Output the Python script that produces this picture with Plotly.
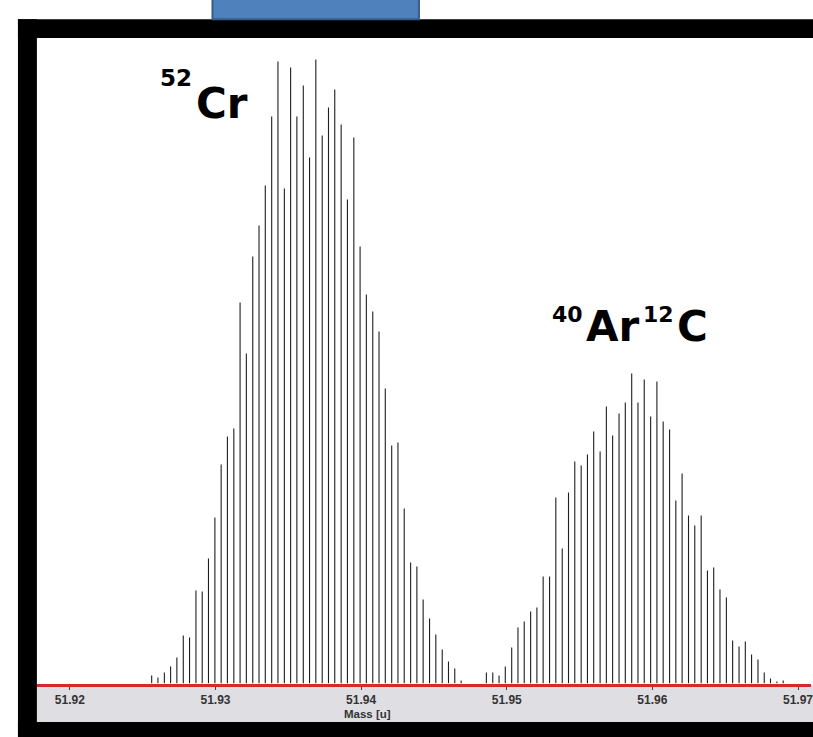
import plotly.graph_objects as go

# ---- data ----
cr_mass = [51.92562, 51.92605, 51.92649, 51.92692, 51.92735, 51.92779, 51.92822, 51.92866, 51.92909, 51.92952,
           51.92996, 51.93039, 51.93082, 51.93126, 51.93169, 51.93212, 51.93256, 51.93299, 51.93342, 51.93386,
           51.93429, 51.93473, 51.93516, 51.93559, 51.93603, 51.93646, 51.93689, 51.93733, 51.93776, 51.93819,
           51.93863, 51.93906, 51.93950, 51.93993, 51.94036, 51.94080, 51.94123, 51.94166, 51.94210, 51.94253,
           51.94296, 51.94340, 51.94383, 51.94426, 51.94470, 51.94513, 51.94557, 51.94600, 51.94643, 51.94687]
cr_int = [8, 6, 11, 17, 26, 48, 46, 93, 92, 125,
          166, 219, 247, 255, 381, 330, 427, 458, 498, 567,
          622, 495, 616, 567, 598, 526, 624, 548, 576, 594,
          559, 484, 546, 437, 389, 372, 352, 295, 238, 241,
          175, 121, 117, 84, 65, 49, 34, 22, 15, 3]

arc_mass = [51.94860, 51.94904, 51.94947, 51.94990, 51.95034, 51.95077, 51.95120, 51.95164, 51.95207, 51.95250,
            51.95294, 51.95337, 51.95381, 51.95424, 51.95467, 51.95511, 51.95554, 51.95597, 51.95641, 51.95684,
            51.95727, 51.95771, 51.95814, 51.95858, 51.95901, 51.95944, 51.95988, 51.96031, 51.96074, 51.96118,
            51.96161, 51.96204, 51.96248, 51.96291, 51.96335, 51.96378, 51.96421, 51.96464, 51.96508, 51.96551,
            51.96595, 51.96638, 51.96681, 51.96725, 51.96768, 51.96811, 51.96855, 51.96898]
arc_int = [11, 11, 8, 17, 36, 56, 62, 72, 76, 107,
           107, 186, 135, 191, 222, 218, 229, 252, 232, 277,
           248, 270, 281, 310, 281, 304, 267, 302, 262, 254,
           183, 210, 168, 158, 168, 113, 116, 94, 86, 43,
           37, 42, 29, 24, 11, 5, 2, 3]

tick_vals = [51.92, 51.93, 51.94, 51.95, 51.96, 51.97]
tick_text = ["51.92", "51.93", "51.94", "51.95", "51.96", "51.97"]
x_title = "Mass [u]"

W, H = 813, 737
def fx(px):
    return px / W
def fy(py):
    return 1 - py / H

def stems(xs, ys):
    sx, sy = [], []
    for m, v in zip(xs, ys):
        sx += [m, m, None]
        sy += [0, v, None]
    return sx, sy

fig = go.Figure()
for xs, ys in [(cr_mass, cr_int), (arc_mass, arc_int)]:
    sx, sy = stems(xs, ys)
    fig.add_trace(go.Scatter(x=sx, y=sy, mode="lines",
                             line=dict(color="#1e1e1e", width=1.1),
                             hoverinfo="skip", showlegend=False))

base_py = 683.5
top_py = 38
x_left = 51.92 - 33 / 14600
x_right = 51.92 + 743 / 14600

shapes = [
    # gray axis strip
    dict(type="rect", xref="paper", yref="paper", x0=fx(37), x1=1.02, y0=fy(722), y1=fy(685),
         fillcolor="#DFDFE3", line=dict(width=0), layer="below"),
    # black frame
    dict(type="rect", xref="paper", yref="paper", x0=fx(18), x1=fx(37), y0=-0.02, y1=fy(19.3),
         fillcolor="black", line=dict(width=0), layer="above"),
    dict(type="rect", xref="paper", yref="paper", x0=fx(18), x1=1.02, y0=fy(38), y1=fy(19.3),
         fillcolor="black", line=dict(width=0), layer="above"),
    dict(type="rect", xref="paper", yref="paper", x0=fx(18), x1=1.02, y0=-0.02, y1=fy(722),
         fillcolor="black", line=dict(width=0), layer="above"),
    # blue box at the top
    dict(type="rect", xref="paper", yref="paper", x0=fx(213), x1=fx(420), y0=fy(19.3), y1=1.02,
         fillcolor="#4F81BD", line=dict(color="#385D8A", width=2), layer="above"),
]

big_font = "DejaVu Sans, sans-serif"
lab_font = "Liberation Sans, Arial, sans-serif"
annotations = [
    dict(text="52", x=fx(158), y=fy(78), xref="paper", yref="paper", xanchor="left", yanchor="middle",
         showarrow=False, font=dict(family=big_font, size=23, color="black", weight="bold")),
    dict(text="Cr", x=fx(194), y=fy(103), xref="paper", yref="paper", xanchor="left", yanchor="middle",
         showarrow=False, font=dict(family=big_font, size=42, color="black", weight="bold")),
    dict(text="40", x=fx(551), y=fy(315), xref="paper", yref="paper", xanchor="left", yanchor="middle",
         showarrow=False, font=dict(family=big_font, size=22, color="black", weight="bold")),
    dict(text="Ar", x=fx(585), y=fy(326), xref="paper", yref="paper", xanchor="left", yanchor="middle",
         showarrow=False, font=dict(family=big_font, size=42, color="black", weight="bold")),
    dict(text="12", x=fx(643), y=fy(315), xref="paper", yref="paper", xanchor="left", yanchor="middle",
         showarrow=False, font=dict(family=big_font, size=22, color="black", weight="bold")),
    dict(text="C", x=fx(677), y=fy(326), xref="paper", yref="paper", xanchor="left", yanchor="middle",
         showarrow=False, font=dict(family=big_font, size=42, color="black", weight="bold")),
    dict(text=x_title, x=fx(368), y=fy(713.5), xref="paper", yref="paper", xanchor="center", yanchor="middle",
         showarrow=False, font=dict(family=lab_font, size=11.5, color="#333333", weight="bold")),
]

fig.update_layout(
    width=W, height=H,
    margin=dict(l=0, r=0, t=0, b=0),
    paper_bgcolor="white", plot_bgcolor="white",
    shapes=shapes, annotations=annotations,
    xaxis=dict(domain=[fx(37), 1.0], range=[x_left, x_right],
               tickvals=tick_vals, ticktext=tick_text,
               ticks="outside", ticklen=3, tickwidth=1, tickcolor="#444444",
               tickfont=dict(family=lab_font, size=12, color="#333333", weight="bold"),
               showline=True, linecolor="#D42A2A", linewidth=3,
               showgrid=False, zeroline=False, ticklabeloverflow="allow"),
    yaxis=dict(domain=[fy(base_py), fy(top_py)], range=[0, base_py - top_py],
               visible=False, showgrid=False, zeroline=False),
)

fig.write_html("out.html", config={"displayModeBar": False},
               post_script="document.body.style.margin='0';document.body.style.overflow='hidden';")
